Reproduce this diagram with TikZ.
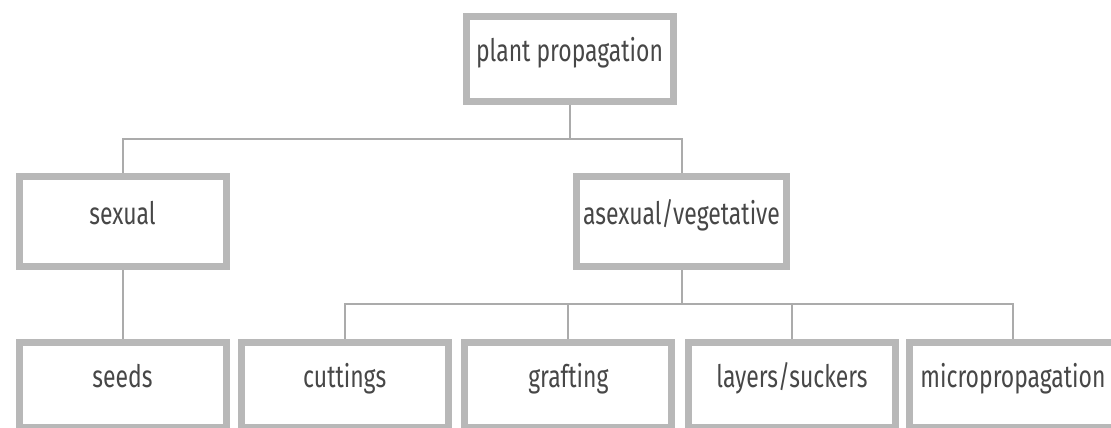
\documentclass[tikz,border=0pt]{standalone}
\usepackage{fontspec}
\setmainfont[FakeStretch=0.74]{Fira Sans}
\usetikzlibrary{backgrounds}
\begin{document}
\begin{tikzpicture}[x=1pt,y=-1pt,
  box/.style={draw=black!28, line width=7pt, fill=white, text=black!72,
    font=\fontsize{31}{36}\selectfont, text height=0.72em, text depth=0.22em,
    inner sep=0pt, minimum width=207pt, minimum height=85pt},
  link/.style={draw=black!33, line width=2pt}]
\useasboundingbox (0,0) rectangle (1111,428);
\clip (0,0) rectangle (1111,428);

% Root
\node[box] (root) at (569.5,59) {plant propagation};

% Two kinds
\node[box, minimum height=90pt] (sexual) at (122.5,221.5) {sexual};
\node[box, minimum height=90pt, minimum width=210pt] (asexual) at (681.5,221.5) {asexual/vegetative};

% Methods
\node[box] (seeds) at (122.5,385) {seeds};
\node[box] (cuttings) at (344.7,385) {cuttings};
\node[box] (grafting) at (568.4,385) {grafting};
\node[box] (layers) at (792,385) {layers/suckers};
\node[box] (micro) at (1013,385) {micropropagation};

% Connectors
\coordinate (busroot) at (569.5,139);
\coordinate (busasex) at (681.5,303.5);
\begin{scope}[on background layer]
\draw[link] (root) -- (busroot);
\draw[link] (busroot) -| (sexual);
\draw[link] (busroot) -| (asexual);
\draw[link] (sexual) -- (seeds);
\draw[link] (asexual) -- (busasex);
\draw[link] (busasex) -| (cuttings);
\draw[link] (busasex) -| (grafting);
\draw[link] (busasex) -| (layers);
\draw[link] (busasex) -| (micro);
\end{scope}
\end{tikzpicture}
\end{document}
